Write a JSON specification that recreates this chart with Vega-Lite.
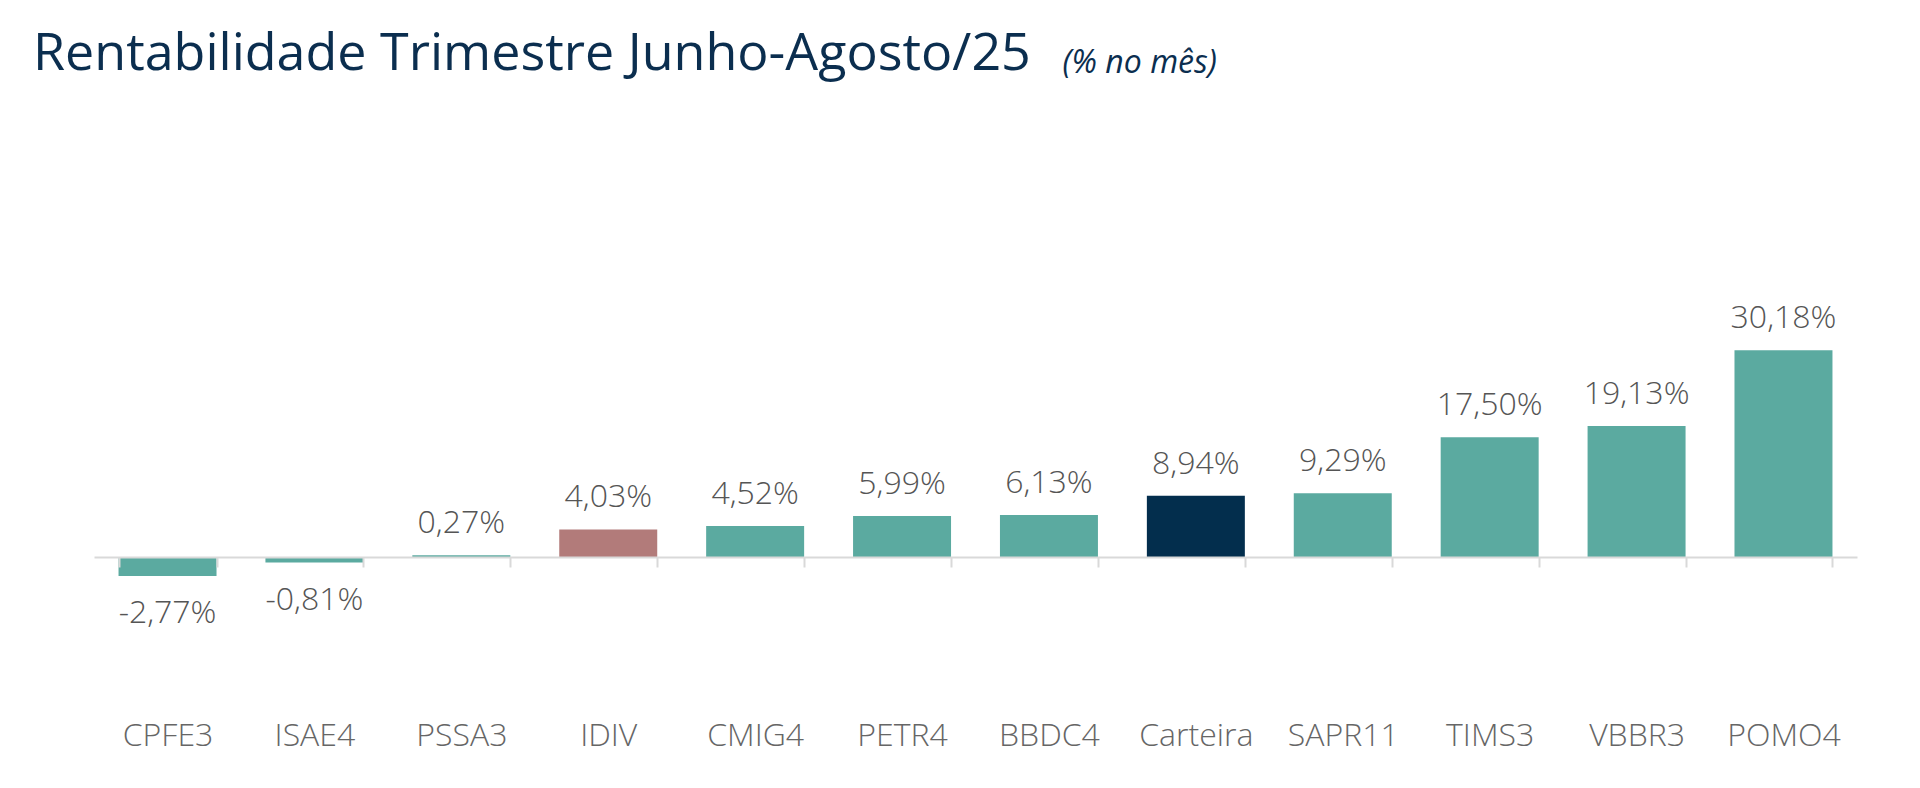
{
  "$schema": "https://vega.github.io/schema/vega-lite/v6.json",
  "description": "Rentabilidade trimestral por ativo, junho-agosto/25",
  "autosize": "none",
  "padding": {"left": 94, "top": 283, "right": 63, "bottom": 231},
  "width": 1763,
  "height": 274,
  "title": {
    "text": "Rentabilidade Trimestre Junho-Agosto/25",
    "anchor": "start",
    "frame": "group",
    "baseline": "alphabetic",
    "dx": -61,
    "offset": -76,
    "font": "Open Sans",
    "fontSize": 52,
    "fontWeight": "normal",
    "color": "#0B2E4F"
  },
  "data": {
    "values": [
      {"ativo": "CPFE3", "tipo": "Ação", "rent": -2.77, "label": "-2,77%"},
      {"ativo": "ISAE4", "tipo": "Ação", "rent": -0.81, "label": "-0,81%"},
      {"ativo": "PSSA3", "tipo": "Ação", "rent": 0.27, "label": "0,27%"},
      {"ativo": "IDIV", "tipo": "Índice", "rent": 4.03, "label": "4,03%"},
      {"ativo": "CMIG4", "tipo": "Ação", "rent": 4.52, "label": "4,52%"},
      {"ativo": "PETR4", "tipo": "Ação", "rent": 5.99, "label": "5,99%"},
      {"ativo": "BBDC4", "tipo": "Ação", "rent": 6.13, "label": "6,13%"},
      {"ativo": "Carteira", "tipo": "Carteira", "rent": 8.94, "label": "8,94%"},
      {"ativo": "SAPR11", "tipo": "Ação", "rent": 9.29, "label": "9,29%"},
      {"ativo": "TIMS3", "tipo": "Ação", "rent": 17.5, "label": "17,50%"},
      {"ativo": "VBBR3", "tipo": "Ação", "rent": 19.13, "label": "19,13%"},
      {"ativo": "POMO4", "tipo": "Ação", "rent": 30.18, "label": "30,18%"}
    ]
  },
  "encoding": {
    "x": {
      "field": "ativo",
      "type": "nominal",
      "sort": null,
      "scale": {"paddingInner": 0.333, "paddingOuter": 0.167},
      "axis": {
        "title": null,
        "zindex": 1,
        "labelAngle": 0,
        "labelFont": "Open Sans",
        "labelFontWeight": 300,
        "labelFontSize": 32,
        "labelColor": "#666666",
        "labelPadding": 153,
        "tickBand": "extent",
        "tickSize": 10,
        "tickWidth": 2,
        "tickColor": "#D9D9D9",
        "domainColor": "#D9D9D9",
        "domainWidth": 2
      }
    },
    "y": {
      "field": "rent",
      "type": "quantitative",
      "scale": {"domain": [0, 40], "nice": false, "zero": false},
      "axis": {
        "title": "(% no mês)",
        "titleAngle": 0,
        "titleAlign": "left",
        "titleBaseline": "alphabetic",
        "titleX": 968,
        "titleY": -211,
        "titleFont": "Open Sans",
        "titleFontStyle": "italic",
        "titleFontWeight": "normal",
        "titleFontSize": 32,
        "titleColor": "#0B2E4F",
        "labels": false,
        "ticks": false,
        "domain": false,
        "grid": false
      }
    }
  },
  "layer": [
    {
      "mark": {"type": "bar", "clip": false},
      "encoding": {
        "color": {
          "field": "tipo",
          "type": "nominal",
          "scale": {
            "domain": ["Ação", "Índice", "Carteira"],
            "range": ["#5BAAA0", "#B27B7A", "#032E4D"]
          },
          "legend": null
        }
      }
    },
    {
      "transform": [{"filter": "datum.rent >= 0"}],
      "mark": {
        "type": "text",
        "baseline": "alphabetic",
        "dy": -22,
        "font": "Open Sans",
        "fontWeight": 300,
        "fontSize": 32,
        "color": "#555555"
      },
      "encoding": {"text": {"field": "label"}}
    },
    {
      "transform": [{"filter": "datum.rent < 0"}],
      "mark": {
        "type": "text",
        "baseline": "alphabetic",
        "dy": 47,
        "font": "Open Sans",
        "fontWeight": 300,
        "fontSize": 32,
        "color": "#555555"
      },
      "encoding": {"text": {"field": "label"}}
    }
  ],
  "config": {
    "background": "white",
    "view": {"stroke": null}
  }
}
